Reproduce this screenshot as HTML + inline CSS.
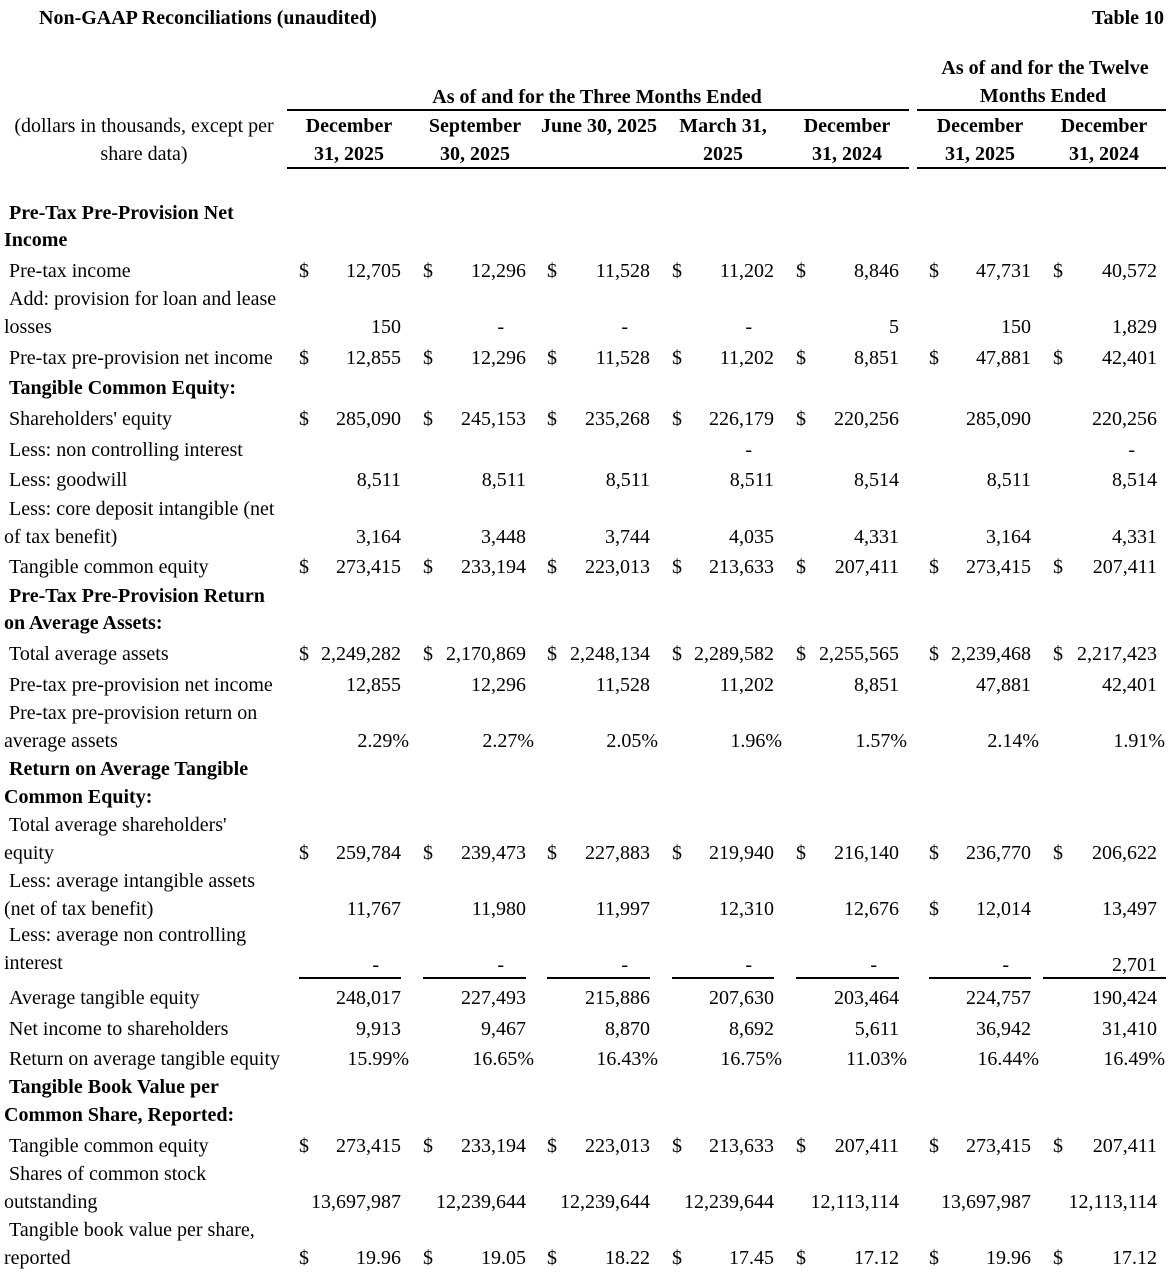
<!DOCTYPE html>
<html><head><meta charset="utf-8"><style>
body{margin:0;width:1168px;height:1273px;background:#fff;position:relative;overflow:hidden;font-family:"Liberation Serif",serif;font-size:20px;color:#000}
.t{position:absolute;white-space:nowrap;line-height:22px}
.b{font-weight:bold}
.r{text-align:right}
.c{transform:translateX(-50%)}
.ln{position:absolute;height:2px;background:#000}
</style></head><body>
<script>
const dollarX=[299,423,547,672,796,929,1053];
const rightX=[401,526,650,774,899,1031,1157];
const root=document.body;
function txt(s,x,y,cls,name){const d=document.createElement('div');d.className='t '+(cls||'');d.textContent=s;
if(cls&&cls.includes('r')){d.style.right=(1168-x)+'px';}else{d.style.left=x+'px';}
d.style.top=(y-10)+'px';


root.appendChild(d);return d;}
function line(x1,x2,y,name){const d=document.createElement('div');d.className='ln';d.style.left=x1+'px';d.style.width=(x2-x1)+'px';d.style.top=y+'px';d.style.height='1.5px';


root.appendChild(d);}
txt('Non-GAAP Reconciliations (unaudited)',39,17,'b','table-title');
txt('Table 10',1164,17,'b r','table-number');
txt('As of and for the Twelve',1045,67,'b c','twelve-months-header');
txt('Months Ended',1043,95,'b c','twelve-months-header-2');
txt('As of and for the Three Months Ended',597,96,'b c','three-months-header');
line(287,909,109,'three-months-rule');line(917,1166,109,'twelve-months-rule');
txt('(dollars in thousands, except per',144,125,'c','units-label');
txt('share data)',144,153,'c','units-label-2');
const hdr=[['December','31, 2025',349],['September','30, 2025',475],['June 30, 2025','',599],['March 31,','2025',723],['December','31, 2024',847],['December','31, 2025',980],['December','31, 2024',1104]];
hdr.forEach((h,i)=>{txt(h[0],h[2],125,'b c','column-header');if(h[1])txt(h[1],h[2],153,'b c','column-header');});
line(287,909,167,'header-rule');line(917,1166,167,'header-rule-2');
const rows=[
 {h:['Pre-Tax Pre-Provision Net','Income'],y:[212,239]},
 {l:['Pre-tax income'],y:270,d:[1,1,1,1,1,1,1],v:['12,705','12,296','11,528','11,202','8,846','47,731','40,572']},
 {l:['Add: provision for loan and lease','losses'],ly:[298,326],y:326,v:['150','-','-','-','5','150','1,829']},
 {l:['Pre-tax pre-provision net income'],y:357,d:[1,1,1,1,1,1,1],v:['12,855','12,296','11,528','11,202','8,851','47,881','42,401']},
 {h:['Tangible Common Equity:'],y:[387]},
 {l:["Shareholders' equity"],y:418,d:[1,1,1,1,1,0,0],v:['285,090','245,153','235,268','226,179','220,256','285,090','220,256']},
 {l:['Less: non controlling interest'],y:449,v:['','','','-','','','-']},
 {l:['Less: goodwill'],y:479,v:['8,511','8,511','8,511','8,511','8,514','8,511','8,514']},
 {l:['Less: core deposit intangible (net','of tax benefit)'],ly:[508,536],y:536,v:['3,164','3,448','3,744','4,035','4,331','3,164','4,331']},
 {l:['Tangible common equity'],y:566,d:[1,1,1,1,1,1,1],v:['273,415','233,194','223,013','213,633','207,411','273,415','207,411']},
 {h:['Pre-Tax Pre-Provision Return','on Average Assets:'],y:[595,622]},
 {l:['Total average assets'],y:653,d:[1,1,1,1,1,1,1],v:['2,249,282','2,170,869','2,248,134','2,289,582','2,255,565','2,239,468','2,217,423']},
 {l:['Pre-tax pre-provision net income'],y:684,v:['12,855','12,296','11,528','11,202','8,851','47,881','42,401']},
 {l:['Pre-tax pre-provision return on','average assets'],ly:[712,740],y:740,p:1,v:['2.29%','2.27%','2.05%','1.96%','1.57%','2.14%','1.91%']},
 {h:['Return on Average Tangible','Common Equity:'],y:[768,796]},
 {l:["Total average shareholders'",'equity'],ly:[824,852],y:852,d:[1,1,1,1,1,1,1],v:['259,784','239,473','227,883','219,940','216,140','236,770','206,622']},
 {l:['Less: average intangible assets','(net of tax benefit)'],ly:[880,908],y:908,d:[0,0,0,0,0,1,0],v:['11,767','11,980','11,997','12,310','12,676','12,014','13,497']},
 {l:['Less: average non controlling','interest'],ly:[934,962],y:964,v:['-','-','-','-','-','-','2,701']},
 {l:['Average tangible equity'],y:997,v:['248,017','227,493','215,886','207,630','203,464','224,757','190,424']},
 {l:['Net income to shareholders'],y:1028,v:['9,913','9,467','8,870','8,692','5,611','36,942','31,410']},
 {l:['Return on average tangible equity'],y:1058,p:1,v:['15.99%','16.65%','16.43%','16.75%','11.03%','16.44%','16.49%']},
 {h:['Tangible Book Value per','Common Share, Reported:'],y:[1086,1114]},
 {l:['Tangible common equity'],y:1145,d:[1,1,1,1,1,1,1],v:['273,415','233,194','223,013','213,633','207,411','273,415','207,411']},
 {l:['Shares of common stock','outstanding'],ly:[1173,1201],y:1201,v:['13,697,987','12,239,644','12,239,644','12,239,644','12,113,114','13,697,987','12,113,114']},
 {l:['Tangible book value per share,','reported'],ly:[1229,1257],y:1257,d:[1,1,1,1,1,1,1],v:['19.96','19.05','18.22','17.45','17.12','19.96','17.12']}
];
rows.forEach(r=>{
 if(r.h){r.h.forEach((s,i)=>txt(s,i?4:9,r.y[i],'b','section-header'));return;}
 const ly=r.ly||[r.y];
 r.l.forEach((s,i)=>txt(s,i?4:9,ly[i],'','row-label'));
 r.v.forEach((v,i)=>{
  if(r.d&&r.d[i])txt('$',dollarX[i],r.y,'','dollar-sign');
  if(v==='-')txt(v,rightX[i]-22,r.y,'r','value-cell');
  else if(v)txt(v,rightX[i]+(r.p?8:0),r.y,'r','value-cell');
 });
});
const ulX=[[299,401],[423,526],[547,650],[672,774],[796,899],[929,1031],[1043,1166]];
ulX.forEach(u=>line(u[0],u[1],977,'subtotal-rule'));
</script>
</body></html>
